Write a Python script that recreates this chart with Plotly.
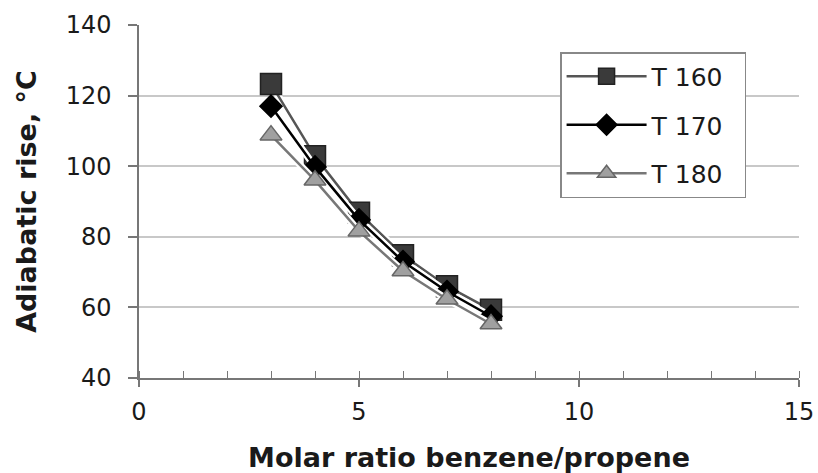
import plotly.graph_objects as go

molar_ratio = [3, 4, 5, 6, 7, 8]
t160 = [123.3, 102.8, 86.8, 74.8, 66.0, 59.3]
t170 = [117.0, 99.8, 84.8, 73.0, 64.5, 57.5]
t180 = [108.8, 96.0, 81.6, 70.3, 62.3, 55.3]

series = [
    ("T 160\u00a0\u00a0", t160, "#555555", "square", 21, "#3a3a3a", "#222222"),
    ("T 170\u00a0\u00a0", t170, "#000000", "diamond", 17, "#000000", "#000000"),
    ("T 180\u00a0\u00a0", t180, "#777777", "triangle-up", 19, "#a0a0a0", "#666666"),
]

fig = go.Figure()
for i, (name, ys, lc, sym, ms, mc, mlc) in enumerate(series):
    fig.add_trace(go.Scatter(
        x=molar_ratio, y=ys, mode="lines", showlegend=False, hoverinfo="skip",
        line=dict(color="white", width=7)))
    fig.add_trace(go.Scatter(
        x=molar_ratio, y=ys, name=name, mode="lines+markers", legendgroup=f"g{i}",
        line=dict(color=lc, width=2.5),
        marker=dict(symbol=sym, size=ms, color=mc, line=dict(color=mlc, width=1.5))))

font = "DejaVu Sans, Liberation Sans, sans-serif"
fig.update_layout(
    width=818, height=473,
    margin=dict(l=139, r=19, t=25, b=95),
    paper_bgcolor="white", plot_bgcolor="white",
    font=dict(family=font, size=24, color="#1a1a1a"),
    legend=dict(
        x=0.638, y=0.9235, xanchor="left", yanchor="top",
        bgcolor="white", bordercolor="#888888", borderwidth=1.5,
        font=dict(size=25), tracegroupgap=13, itemwidth=80,
    ),
    xaxis=dict(
        range=[0, 15], dtick=5, tick0=0, automargin=False,
        showline=True, linecolor="#777777", linewidth=1.5,
        ticks="outside", ticklen=7, tickcolor="#777777", tickwidth=1.5,
        ticklabelstandoff=4,
        minor=dict(ticks="inside", dtick=1, ticklen=7, tickcolor="#777777", tickwidth=1.2),
        showgrid=False, zeroline=False,
        tickfont=dict(size=24),
        title=dict(text="<b>Molar ratio benzene/propene</b>", font=dict(size=27), standoff=25),
    ),
    yaxis=dict(
        range=[40, 140], dtick=20, tick0=40, automargin=False,
        showline=True, linecolor="#777777", linewidth=1.5,
        ticks="outside", ticklen=9, tickcolor="#777777", tickwidth=1.5,
        ticklabelstandoff=12,
        showgrid=True, gridcolor="#c8c8c8", gridwidth=1.5, zeroline=False,
        tickfont=dict(size=24),
        title=dict(text="<b>Adiabatic rise, °C</b>", font=dict(size=27), standoff=21),
    ),
)

fig.write_html("out.html")
